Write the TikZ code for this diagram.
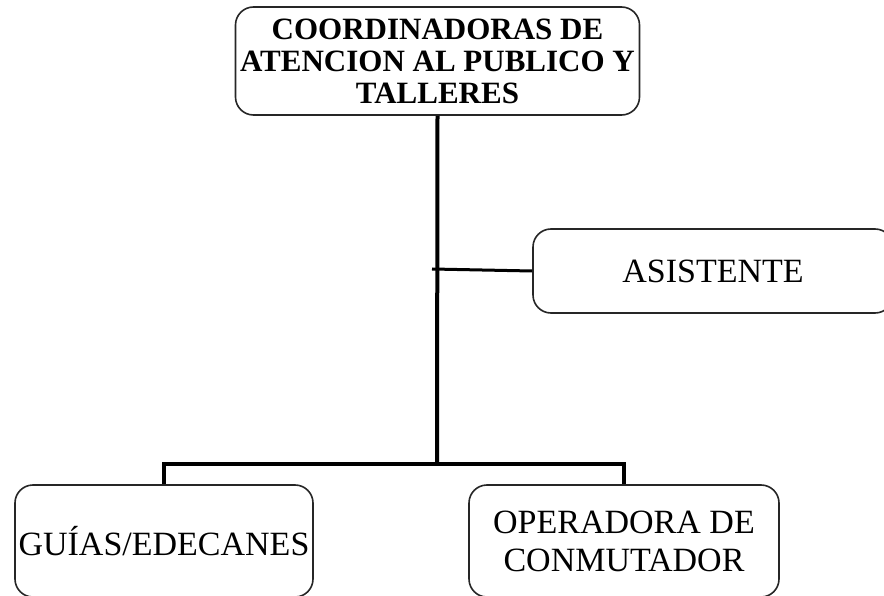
\documentclass[tikz,border=0pt]{standalone}
\usepackage{fontspec}
\setmainfont{Liberation Serif}
\usetikzlibrary{positioning}

\begin{document}
\begin{tikzpicture}[
    x=1pt, y=-1pt,
    box/.style = {
        draw=black!85,
        line width=1.6pt,
        rounded corners=18pt,
        inner sep=0pt,
        align=center,
        font=\fontsize{34}{38}\selectfont
    },
    headbox/.style = {
        box,
        font=\fontsize{31}{32}\selectfont\bfseries
    },
    link/.style={
        line width=4pt
    }
]
  \clip (0,0) rectangle (884,596);

  \node[headbox, minimum width=404pt, minimum height=108pt] (coord) at (437.5,61) {COORDINADORAS DE\\ATENCION AL PUBLICO Y\\TALLERES};
  \node[box, minimum width=360pt, minimum height=84pt] (asist) at (713,271) {ASISTENTE};
  \node[box, minimum width=298pt, minimum height=112pt] (guias) at (164,541) {GUÍAS/EDECANES};
  \node[box, minimum width=310pt, minimum height=112pt] (opera) at (624,541) {OPERADORA DE\\CONMUTADOR};

  \coordinate (split) at (437,464);
  \coordinate (tee) at (432,269);

  \draw[link] (coord.south) -- (split);
  \draw[link, line width=3.5pt] (guias.north) |- (split) -| (opera.north);
  \draw[link, line width=3pt] (tee) -- (asist.west);
\end{tikzpicture}
\end{document}
